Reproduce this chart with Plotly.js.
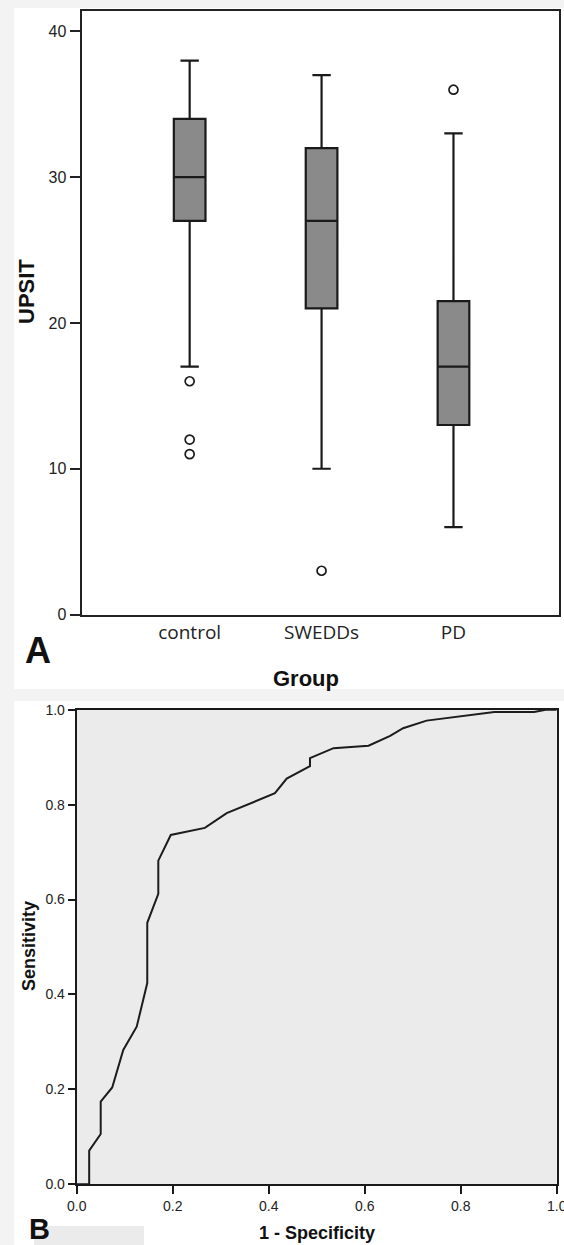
<!DOCTYPE html>
<html>
<head>
<meta charset="utf-8">
<script src="https://cdn.plot.ly/plotly-3.0.1.min.js"></script>
<style>html,body{margin:0;padding:0;background:#f3f3f3;}#chart{width:564px;height:1245px;}</style>
</head>
<body>
<div id="chart"></div>
<script>
// ---- Panel A: UPSIT by group (box plot summary) ----
const groups = ['control', 'SWEDDs', 'PD'];
const q1 = [27, 21, 13];
const median = [30, 27, 17];
const q3 = [34, 32, 21.5];
const lowerWhisker = [17, 10, 6];
const upperWhisker = [38, 37, 33];
const outlierGroup = ['control', 'control', 'control', 'SWEDDs', 'PD'];
const outlierValue = [16, 12, 11, 3, 36];
const upsitTicks = [0, 10, 20, 30, 40];

// ---- Panel B: ROC curve ----
const rocFpr = [0, 0.026, 0.026, 0.050, 0.050, 0.074, 0.097, 0.125, 0.147, 0.147, 0.170, 0.170, 0.196, 0.239, 0.267, 0.3125, 0.413, 0.4375, 0.486, 0.486, 0.535, 0.608, 0.653, 0.680, 0.729, 0.870, 0.953, 0.977, 1.0];
const rocTpr = [0, 0, 0.071, 0.106, 0.174, 0.204, 0.283, 0.332, 0.424, 0.551, 0.612, 0.682, 0.736, 0.745, 0.751, 0.782, 0.824, 0.855, 0.881, 0.898, 0.919, 0.924, 0.945, 0.961, 0.977, 0.995, 0.995, 1.0, 1.0];
const rocTicks = [0, 0.2, 0.4, 0.6, 0.8, 1.0];

const W = 564, H = 1245;
const px = v => v / W;
const py = v => 1 - v / H;

const traces = [
  {
    type: 'box', x: groups, q1: q1, median: median, q3: q3,
    lowerfence: lowerWhisker, upperfence: upperWhisker,
    width: 0.24, whiskerwidth: 0.58,
    fillcolor: '#8a8a8a', line: {color: '#1a1a1a', width: 2.2},
    xaxis: 'x', yaxis: 'y', hoverinfo: 'skip', showlegend: false
  },
  {
    type: 'scatter', mode: 'markers', x: outlierGroup, y: outlierValue,
    marker: {symbol: 'circle', size: 9, color: '#ffffff', line: {color: '#1a1a1a', width: 1.7}},
    xaxis: 'x', yaxis: 'y', hoverinfo: 'skip', showlegend: false
  },
  {
    type: 'scatter', mode: 'lines', x: rocFpr, y: rocTpr,
    line: {color: '#1c1c1c', width: 2},
    xaxis: 'x2', yaxis: 'y2', hoverinfo: 'skip', showlegend: false
  }
];

const tickFont = {family: 'Liberation Sans, Arial, sans-serif', size: 16, color: '#222'};
const smallTickFont = {family: 'Liberation Sans, Arial, sans-serif', size: 14, color: '#222'};
const bold = (size) => ({family: 'Liberation Sans, Arial, sans-serif', size: size, color: '#111', weight: 'bold'});

const layout = {
  width: W, height: H,
  margin: {l: 0, r: 0, t: 0, b: 0},
  paper_bgcolor: '#f3f3f3',
  plot_bgcolor: 'rgba(0,0,0,0)',
  showlegend: false,
  xaxis: {
    domain: [px(81.5), px(559)], anchor: 'y',
    type: 'category', range: [-0.82, 2.80],
    showgrid: false, zeroline: false,
    showline: true, linecolor: '#222', linewidth: 2, mirror: true,
    ticks: '', tickfont: {family: 'Open Sans, sans-serif', size: 19, color: '#222'}
  },
  yaxis: {
    domain: [py(614.5), py(11)], anchor: 'x',
    range: [0, 41.4], tickvals: upsitTicks,
    showgrid: false, zeroline: false,
    showline: true, linecolor: '#222', linewidth: 2, mirror: true,
    ticks: 'outside', ticklen: 10, tickwidth: 2, tickcolor: '#222',
    tickfont: tickFont
  },
  xaxis2: {
    domain: [px(76.7), px(556.7)], anchor: 'y2',
    range: [0, 1], tickvals: rocTicks, tickformat: '.1f',
    showgrid: false, zeroline: false,
    showline: true, linecolor: '#1a1a1a', linewidth: 2, mirror: true,
    ticks: 'outside', ticklen: 8, tickwidth: 2, tickcolor: '#1a1a1a',
    ticklabeloverflow: 'allow',
    tickfont: smallTickFont
  },
  yaxis2: {
    domain: [py(1184.3), py(709.7)], anchor: 'x2',
    range: [0, 1], tickvals: rocTicks, tickformat: '.1f',
    showgrid: false, zeroline: false,
    showline: true, linecolor: '#1a1a1a', linewidth: 2, mirror: true,
    ticks: 'outside', ticklen: 7, tickwidth: 2, tickcolor: '#1a1a1a',
    tickfont: smallTickFont
  },
  shapes: [
    {type: 'rect', xref: 'paper', yref: 'paper', x0: px(14), x1: 1, y0: py(689), y1: py(8), fillcolor: '#ffffff', line: {width: 0}, layer: 'below'},
    {type: 'rect', xref: 'paper', yref: 'paper', x0: px(14), x1: 1, y0: 0, y1: py(701), fillcolor: '#ffffff', line: {width: 0}, layer: 'below'},
    {type: 'rect', xref: 'paper', yref: 'paper', x0: px(34), x1: px(144), y0: 0, y1: py(1226), fillcolor: '#ebebeb', line: {width: 0}, layer: 'below'},
    {type: 'rect', xref: 'x2 domain', yref: 'y2 domain', x0: 0, x1: 1, y0: 0, y1: 1, fillcolor: '#ebebeb', line: {width: 0}, layer: 'below'}
  ],
  annotations: [
    {text: 'UPSIT', xref: 'paper', yref: 'paper', x: px(26), y: py(292), textangle: -90, showarrow: false, font: bold(22), xanchor: 'center', yanchor: 'middle'},
    {text: 'Group', xref: 'paper', yref: 'paper', x: px(306), y: py(678), showarrow: false, font: bold(22), xanchor: 'center', yanchor: 'middle'},
    {text: 'A', xref: 'paper', yref: 'paper', x: px(38), y: py(650), showarrow: false, font: bold(36), xanchor: 'center', yanchor: 'middle'},
    {text: 'Sensitivity', xref: 'paper', yref: 'paper', x: px(29), y: py(946), textangle: -90, showarrow: false, font: bold(18), xanchor: 'center', yanchor: 'middle'},
    {text: '1 - Specificity', xref: 'paper', yref: 'paper', x: px(317), y: py(1233), showarrow: false, font: bold(18), xanchor: 'center', yanchor: 'middle'},
    {text: 'B', xref: 'paper', yref: 'paper', x: px(39), y: py(1229), showarrow: false, font: bold(29), xanchor: 'center', yanchor: 'middle'}
  ]
};

Plotly.newPlot('chart', traces, layout, {displayModeBar: false, staticPlot: true});
</script>
</body>
</html>
